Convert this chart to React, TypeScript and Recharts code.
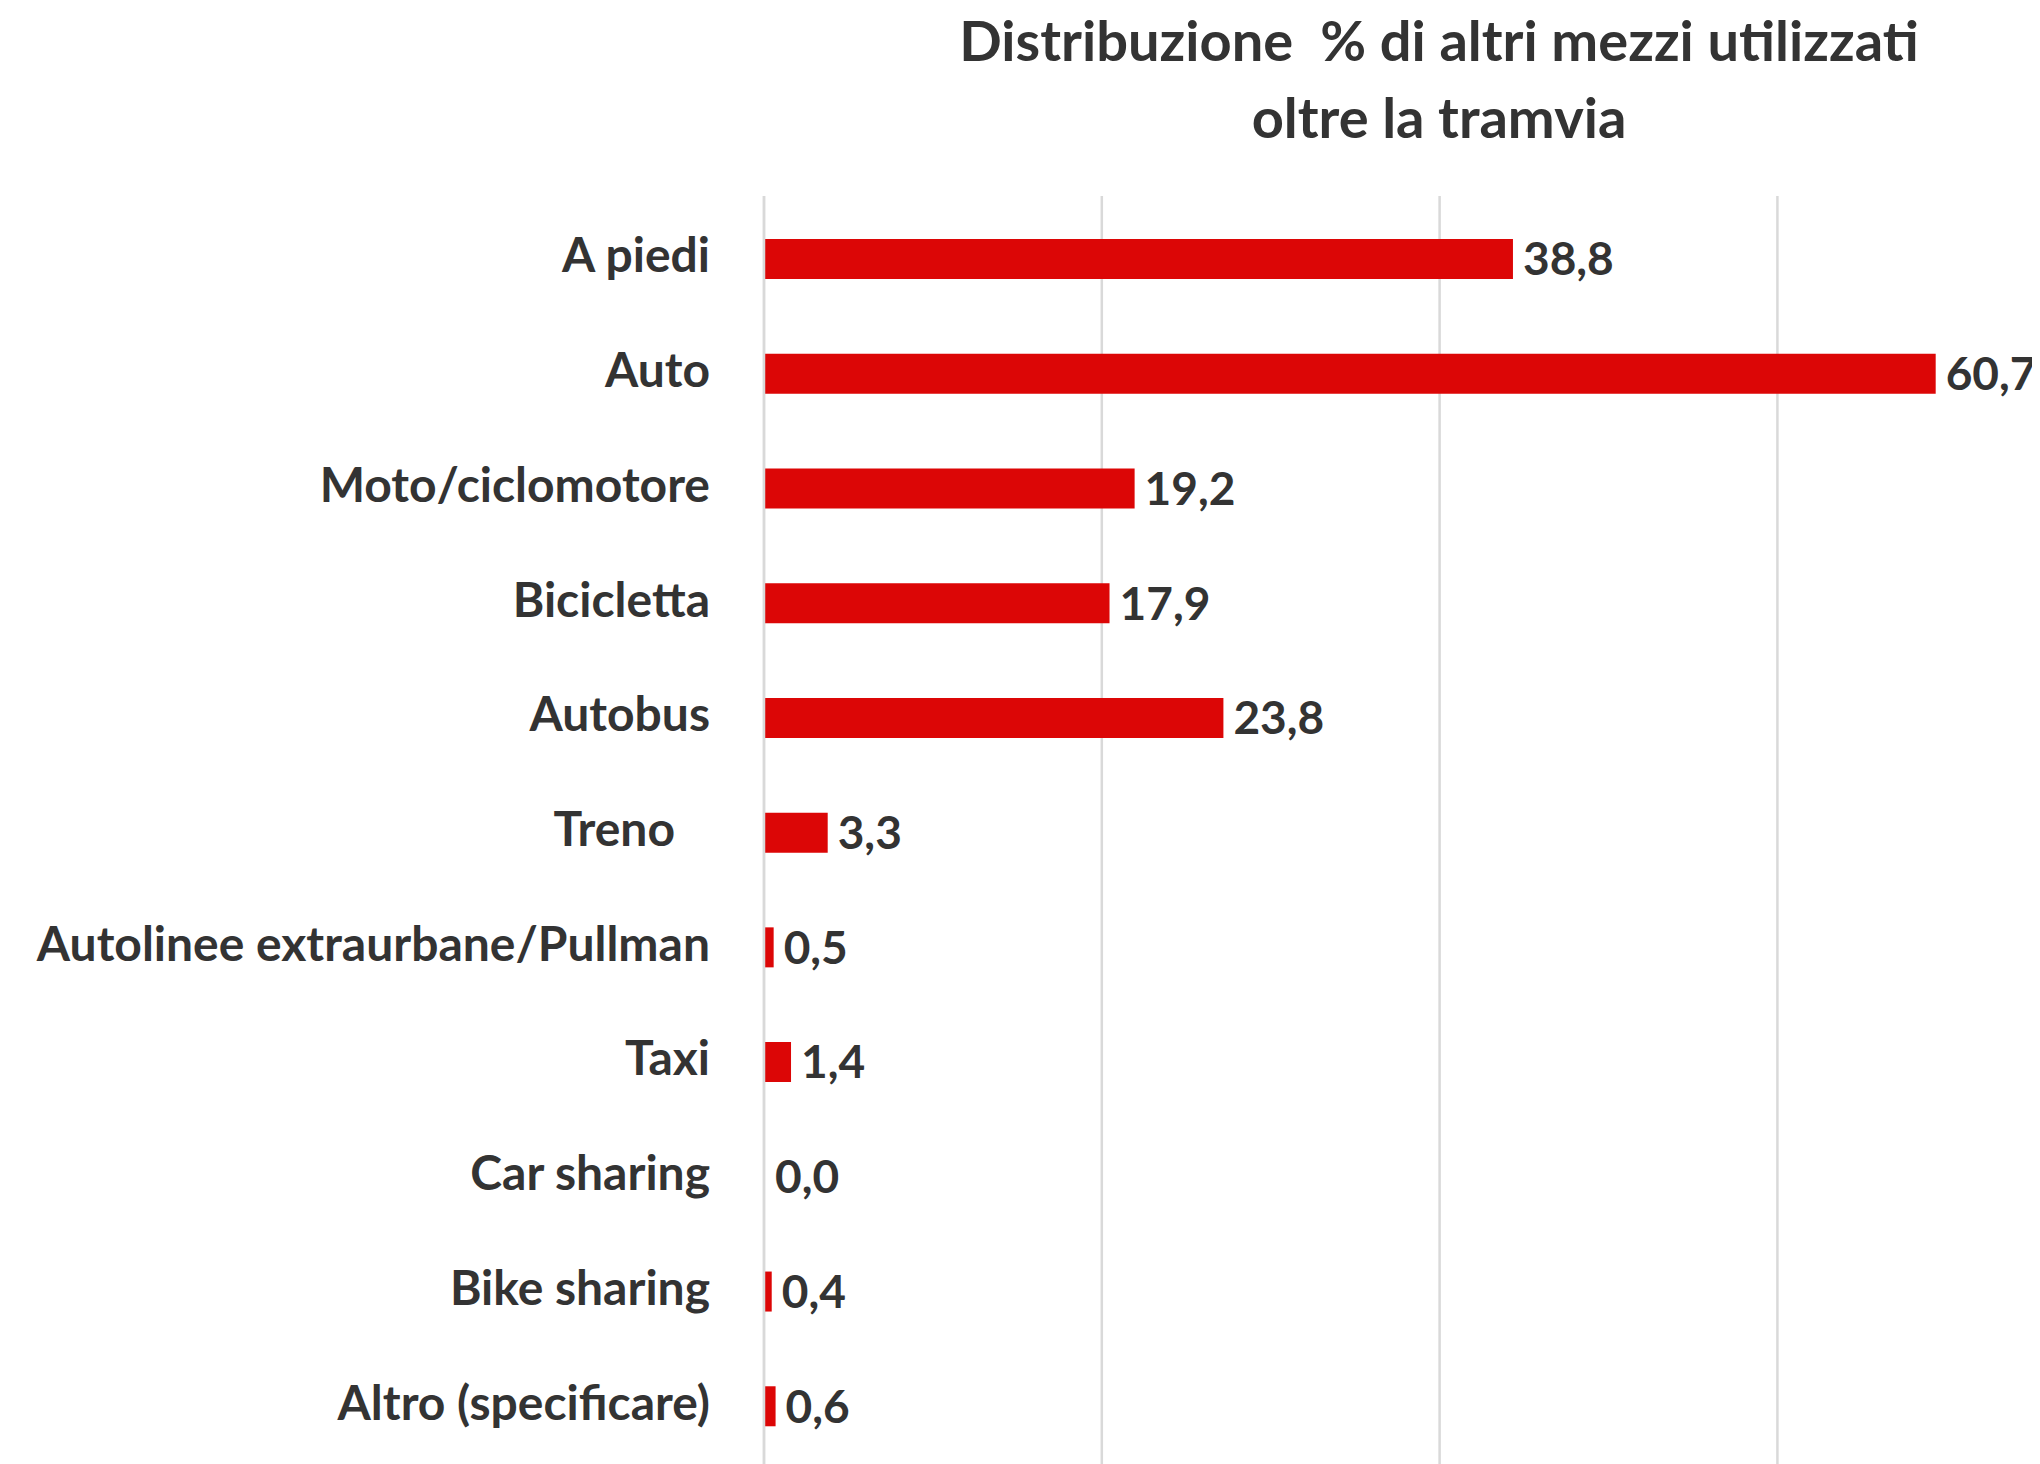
import { BarChart, Bar, XAxis, YAxis, CartesianGrid, LabelList, Cell } from 'recharts';

const CATEGORIES = [
  'A piedi',
  'Auto',
  'Moto/ciclomotore',
  'Bicicletta',
  'Autobus',
  'Treno   ',
  'Autolinee extraurbane/Pullman',
  'Taxi',
  'Car sharing',
  'Bike sharing',
  'Altro (specificare)',
];
const VALUES = [38.8, 60.7, 19.2, 17.9, 23.8, 3.3, 0.5, 1.4, 0.0, 0.4, 0.6];
const X_TICKS = [0, 17.5, 35, 52.5];
const TITLE = ['Distribuzione  % di altri mezzi utilizzati', 'oltre la tramvia'];

const FONT = 'Lato, "Open Sans", sans-serif';
const TEXT = '#333333';
const RED = '#dc0606';

const data = CATEGORIES.map((name, i) => ({ name, value: VALUES[i] }));

const fmt = (v: number) => v.toFixed(1).replace('.', ',');

function CategoryTick(props: any) {
  const { x, y, payload } = props;
  return (
    <text
      x={x}
      y={y}
      dy={13}
      textAnchor="end"
      fill={TEXT}
      fontFamily={FONT}
      fontWeight={700}
      fontSize={48}
      style={{ whiteSpace: 'pre' }}
    >
      {payload.value}
    </text>
  );
}

export default function App() {
  return (
    <div style={{ position: 'relative', width: 2032, height: 1456, fontFamily: FONT }}>
      <div
        style={{
          position: 'absolute',
          left: 731,
          top: -7,
          width: 1400,
          textAlign: 'center',
          fontSize: 56,
          lineHeight: '77px',
          fontWeight: 700,
          color: TEXT,
          whiteSpace: 'pre',
        }}
      >
        {TITLE.map((t) => (
          <div key={t}>{t}</div>
        ))}
      </div>
      <BarChart
        width={2032}
        height={1456}
        data={data}
        layout="vertical"
        margin={{ top: 188, right: 2, bottom: 0, left: 0 }}
        barCategoryGap={0}
      >
        <CartesianGrid horizontal={false} stroke="#d9d9d9" strokeWidth={2.5} />
        <XAxis type="number" domain={[0, 66]} ticks={X_TICKS} hide />
        <YAxis
          type="category"
          dataKey="name"
          width={756}
          padding={{ top: 6, bottom: 0 }}
          axisLine={{ stroke: '#d9d9d9', strokeWidth: 2.5 }}
          tickLine={false}
          tickMargin={48}
          tick={<CategoryTick />}
          interval={0}
        />
        <Bar dataKey="value" fill={RED} barSize={40} minPointSize={1} isAnimationActive={false}>
          {data.map((d, i) => (
            <Cell key={i} fill={d.value === 0 ? 'transparent' : RED} />
          ))}
          <LabelList
            dataKey="value"
            position="right"
            offset={10}
            formatter={(v: any) => fmt(Number(v))}
            fill={TEXT}
            fontFamily={FONT}
            fontWeight={700}
            fontSize={46}
          />
        </Bar>
      </BarChart>
    </div>
  );
}
